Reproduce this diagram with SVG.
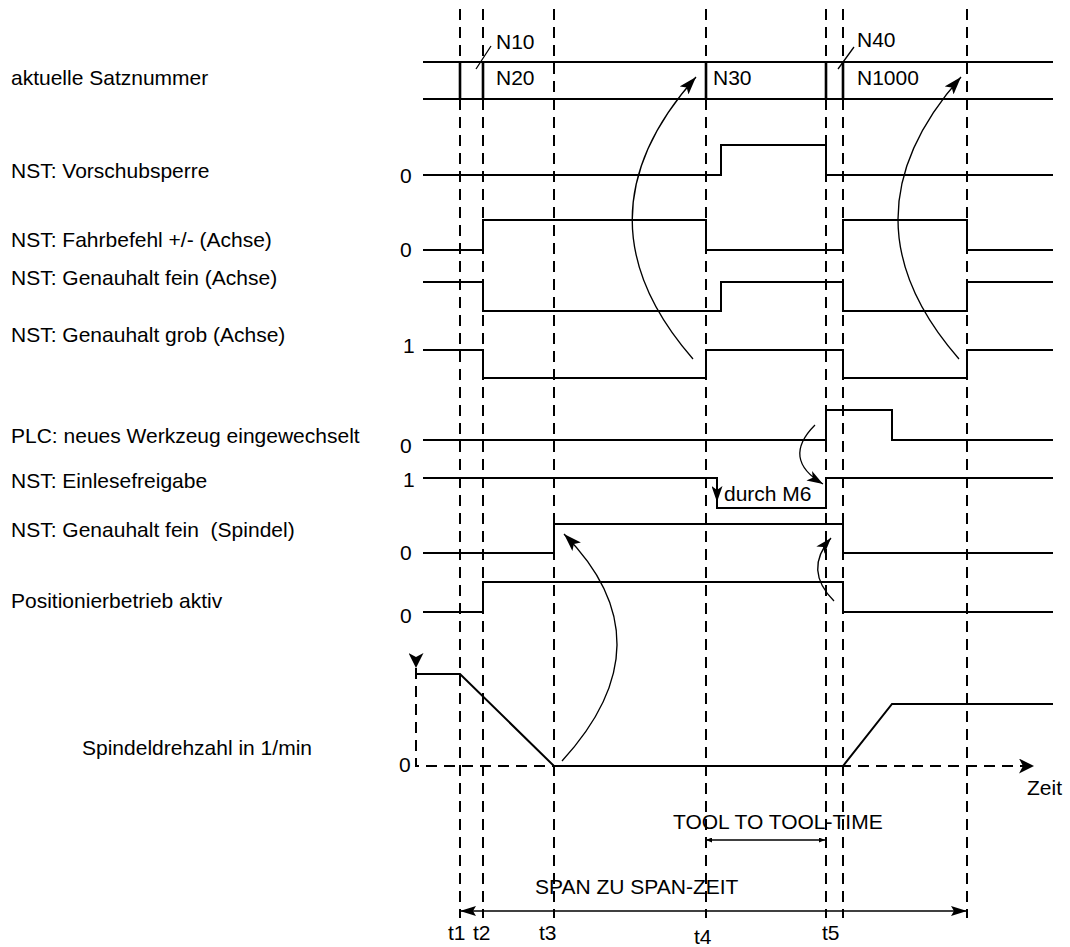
<svg xmlns="http://www.w3.org/2000/svg" width="1070" height="947" viewBox="0 0 1070 947">
<defs>
<style>
text{font-family:"Liberation Sans",Arial,sans-serif;font-size:21px;fill:#000}
.sig{fill:none;stroke:#000;stroke-width:2}
.bar{stroke:#000;stroke-width:2.6}
.dash{fill:none;stroke:#000;stroke-width:2;stroke-dasharray:11 7}
.curve{fill:none;stroke:#000;stroke-width:1.3}
.dim{fill:none;stroke:#000;stroke-width:1.6}
</style>
<marker id="ah" markerUnits="userSpaceOnUse" viewBox="0 0 18 12" refX="18" refY="6" markerWidth="18" markerHeight="12" orient="auto">
<path d="M0,0 L18,6 L0,12 L4,6 z" fill="#000"/>
</marker>
<marker id="ah2" markerUnits="userSpaceOnUse" viewBox="0 0 16 11" refX="16" refY="5.5" markerWidth="16" markerHeight="11" orient="auto">
<path d="M0,0 L16,5.5 L0,11 L4,5.5 z" fill="#000"/>
</marker>
<marker id="ax" markerUnits="userSpaceOnUse" viewBox="0 0 15 15" refX="15" refY="7.5" markerWidth="15" markerHeight="15" orient="auto">
<path d="M0,0 L15,7.5 L0,15 L4,7.5 z" fill="#000"/>
</marker>
<marker id="sp" markerUnits="userSpaceOnUse" viewBox="0 0 16 10" refX="16" refY="5" markerWidth="16" markerHeight="10" orient="auto-start-reverse">
<path d="M0,0 L16,5 L0,10 L3,5 z" fill="#000"/>
</marker>
<marker id="sm" markerUnits="userSpaceOnUse" viewBox="0 0 6 5" refX="6" refY="2.5" markerWidth="6" markerHeight="5" orient="auto-start-reverse">
<path d="M0,0 L6,2.5 L0,5 z" fill="#000"/>
</marker>
</defs>
<rect width="1070" height="947" fill="#fff"/>

<g id="grid">
<path class="dash" d="M460,9 V918 M483,9 V918 M554,9 V918 M706,9 V918 M826,9 V918 M843,9 V918 M967,9 V918"/>
</g>

<g id="labels">
<text x="11" y="85">aktuelle Satznummer</text>
<text x="11" y="178">NST: Vorschubsperre</text>
<text x="11" y="247">NST: Fahrbefehl +/- (Achse)</text>
<text x="11" y="285">NST: Genauhalt fein (Achse)</text>
<text x="11" y="342">NST: Genauhalt grob (Achse)</text>
<text x="11" y="443">PLC: neues Werkzeug eingewechselt</text>
<text x="11" y="488">NST: Einlesefreigabe</text>
<text x="11" y="537" style="white-space:pre">NST: Genauhalt fein  (Spindel)</text>
<text x="11" y="608">Positionierbetrieb aktiv</text>
<text x="82" y="755">Spindeldrehzahl in 1/min</text>
<text x="400" y="183">0</text>
<text x="400" y="257">0</text>
<text x="403" y="353">1</text>
<text x="400" y="453">0</text>
<text x="403" y="487">1</text>
<text x="400" y="560">0</text>
<text x="400" y="623">0</text>
<text x="399" y="772">0</text>
</g>

<g id="satznummer">
<path class="sig" d="M423,62 H1053 M423,99 H1053"/>
<path class="bar" d="M460,62 V99 M483,62 V99 M706,62 V99 M826,62 V99 M843,62 V99"/>
<path class="curve" d="M476,69 L491,46 M838,69 L854,47"/>
<text x="496" y="49">N10</text>
<text x="496" y="85">N20</text>
<text x="713" y="85">N30</text>
<text x="857" y="47">N40</text>
<text x="857" y="85">N1000</text>
</g>

<g id="vorschubsperre">
<path class="sig" d="M423,175 H721 V145 H826 V175 H1053"/>
</g>
<g id="fahrbefehl">
<path class="sig" d="M423,250 H483 V220 H706 V250 H843 V220 H967 V250 H1053"/>
</g>
<g id="genauhalt-fein-achse">
<path class="sig" d="M423,282 H483 V311 H721 V282 H843 V311 H967 V282 H1053"/>
</g>
<g id="genauhalt-grob-achse">
<path class="sig" d="M423,350 H483 V378 H706 V350 H843 V378 H967 V350 H1053"/>
</g>
<g id="plc-werkzeug">
<path class="sig" d="M423,440 H826 V410 H892 V440 H1053"/>
</g>
<g id="einlesefreigabe">
<path class="sig" d="M423,478 H717 V508 H826 V478 H1053"/>
<text x="724" y="501">durch M6</text>
</g>
<g id="genauhalt-fein-spindel">
<path class="sig" d="M423,553 H554 V524 H843 V553 H1053"/>
</g>
<g id="positionierbetrieb">
<path class="sig" d="M423,612 H483 V582 H843 V612 H1053"/>
</g>
<g id="spindeldrehzahl">
<path class="dash" d="M416,668 V766 H1034" stroke-dasharray="10 7" marker-start="url(#ax)" marker-end="url(#ax)"/>
<path class="sig" d="M416,674 H460 L554,766 H843 L892,704 H1053"/>
<text x="1027" y="795">Zeit</text>
</g>

<g id="connectors">
<path class="curve" d="M693,359 Q570,218 696,77" marker-end="url(#ah)"/>
<path class="curve" d="M959,359 Q836,218 961,77" marker-end="url(#ah)"/>
<path class="curve" d="M562,761 Q671,642 564,534" marker-end="url(#ah)"/>
<path class="curve" d="M815,425 Q781,459 823,484" marker-end="url(#ah2)"/>
<path class="curve" d="M834,601 Q803,570 831,538" marker-end="url(#ah2)"/>
<path class="sig" d="M717,482 V502" marker-end="url(#ah2)"/>
</g>

<g id="zeiten">
<text x="673" y="829">TOOL TO TOOL-TIME</text>
<path class="dim" d="M706,840 H825" marker-start="url(#sm)" marker-end="url(#sm)"/>
<text x="535" y="894">SPAN ZU SPAN-ZEIT</text>
<path class="dim" d="M460,911 H967" stroke-width="2" marker-start="url(#sp)" marker-end="url(#sp)"/>
<text x="448" y="940">t1</text>
<text x="473" y="940">t2</text>
<text x="539" y="940">t3</text>
<text x="694" y="944">t4</text>
<text x="822" y="940">t5</text>
</g>
</svg>
